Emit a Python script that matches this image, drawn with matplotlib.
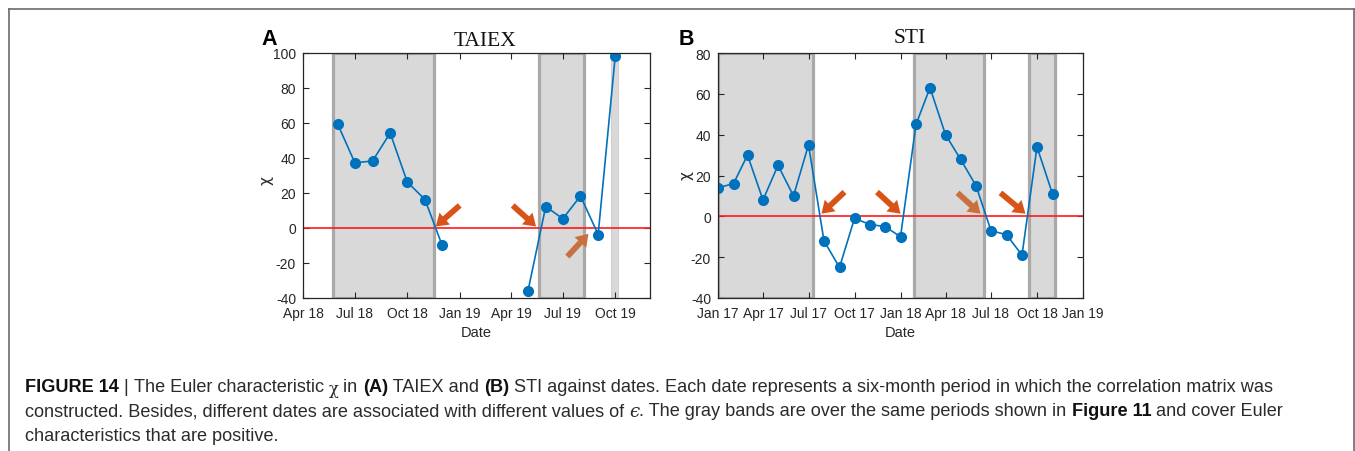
import datetime as dt
import numpy as np
import matplotlib
matplotlib.use("Agg")
import matplotlib.pyplot as plt
import matplotlib.dates as mdates
from matplotlib.lines import Line2D

# ---------------- data ----------------
taiex_dates = [dt.date(2018, m, 1) for m in range(6, 13)] + \
              [dt.date(2019, m, 1) for m in range(1, 11)]
taiex_chi = [59, 37, 38, 54, 26, 16, -10,
             np.nan, np.nan, np.nan, np.nan,
             -36, 12, 5, 18, -4, 98]

sti_dates = [dt.date(2017, m, 1) for m in range(1, 13)] + \
            [dt.date(2018, m, 1) for m in range(1, 12)]
sti_chi = [14, 16, 30, 8, 25, 10, 35, -12, -25, -1, -4, -5,
           -10, 45, 63, 40, 28, 15, -7, -9, -19, 34, 11]

# gray bands (start, end)
taiex_bands = [(dt.date(2018, 5, 23), dt.date(2018, 11, 17)),
               (dt.date(2019, 5, 20), dt.date(2019, 8, 8))]
taiex_thin_band = (dt.date(2019, 9, 23), dt.date(2019, 10, 6))
sti_bands = [(dt.date(2017, 1, 1), dt.date(2017, 7, 10)),
             (dt.date(2018, 1, 27), dt.date(2018, 6, 17)),
             (dt.date(2018, 9, 14), dt.date(2018, 11, 5))]

# arrows: (tail date, tail value, head date, head value, style)
taiex_arrows = [(dt.date(2019, 1, 1), 12.6, dt.date(2018, 11, 20), 0.6, "main"),
                (dt.date(2019, 4, 4), 12.6, dt.date(2019, 5, 15), 0.6, "main"),
                (dt.date(2019, 7, 9), -16.6, dt.date(2019, 8, 15), -3.6, "soft")]
sti_arrows = [(dt.date(2017, 9, 11), 11.9, dt.date(2017, 7, 27), 1.3, "main"),
              (dt.date(2017, 11, 15), 11.9, dt.date(2018, 1, 1), 1.3, "main"),
              (dt.date(2018, 4, 25), 11.5, dt.date(2018, 6, 10), 1.3, "soft"),
              (dt.date(2018, 7, 20), 11.5, dt.date(2018, 9, 8), 1.3, "main")]

taiex_xlim = (dt.date(2018, 4, 1), dt.date(2019, 12, 1))
sti_xlim = (dt.date(2017, 1, 1), dt.date(2019, 1, 1))
taiex_ylim = (-40, 100)
sti_ylim = (-40, 80)

# ---------------- style ----------------
BLUE = "#0072BD"
ORANGE = "#D95319"
SOFT_ORANGE = "#C8703E"
BAND_FILL = "#d9d9d9"
BAND_EDGE = "#a9a9a9"
AX_COL = "#262626"
SANS = ["Liberation Sans", "DejaVu Sans"]

plt.rcParams["font.family"] = SANS
plt.rcParams["axes.unicode_minus"] = False

W, H = 1355, 452
fig = plt.figure(figsize=(W / 100, H / 100), dpi=100)


def px_rect(l, t, r, b):
    return [l / W, 1 - b / H, (r - l) / W, (b - t) / H]


def draw_panel(ax, dates, chi, bands, arrows, xlim, ylim, ystep, thin_band=None):
    for (s, e) in bands:
        ax.axvspan(s, e, facecolor=BAND_FILL, edgecolor=BAND_EDGE, lw=2.3, zorder=1)
    if thin_band is not None:
        ax.axvspan(*thin_band, facecolor=BAND_FILL, edgecolor="#d0d0d0", lw=0.8, zorder=1)
    ax.axhline(0, color="#ff1a1a", lw=1.2, zorder=2)
    ax.plot(dates, chi, color=BLUE, lw=1.2, marker="o", ms=7,
            markerfacecolor=BLUE, markeredgecolor=BLUE, zorder=3)
    for (td, tv, hd, hv, kind) in arrows:
        col = ORANGE if kind == "main" else SOFT_ORANGE
        ax.annotate("", xy=(hd, hv), xytext=(td, tv),
                    arrowprops=dict(arrowstyle="simple,head_length=0.45,head_width=0.6,tail_width=0.22",
                                    color=col, lw=0, shrinkA=0, shrinkB=0,
                                    mutation_scale=19),
                    zorder=4)
    ax.set_xlim(*xlim)
    ax.set_ylim(*ylim)
    ax.set_yticks(np.arange(ylim[0], ylim[1] + 1, ystep))
    ax.xaxis.set_major_locator(mdates.MonthLocator(bymonth=[1, 4, 7, 10]))
    ax.xaxis.set_major_formatter(mdates.DateFormatter("%b %y"))
    ax.tick_params(direction="in", length=4, width=0.8, colors=AX_COL,
                   labelsize=10, top=True, right=True, pad=5)
    ax.tick_params(axis="x", pad=6)
    for sp in ax.spines.values():
        sp.set_color(AX_COL)
        sp.set_linewidth(0.9)
        sp.set_zorder(5)


axA = fig.add_axes(px_rect(303, 53.5, 650, 298.5))
draw_panel(axA, taiex_dates, taiex_chi, taiex_bands, taiex_arrows,
           taiex_xlim, taiex_ylim, 20, thin_band=taiex_thin_band)
axB = fig.add_axes(px_rect(718, 54, 1083, 299))
draw_panel(axB, sti_dates, sti_chi, sti_bands, sti_arrows,
           sti_xlim, sti_ylim, 20)

# titles, labels
fig.text(485 / W, 1 - 41.5 / H, "TAIEX", family=["Liberation Serif", "DejaVu Serif"],
         fontsize=15.5, ha="center", va="center", color="#111111")
fig.text(910 / W, 1 - 38.5 / H, "STI", family=["Liberation Serif", "DejaVu Serif"],
         fontsize=15.5, ha="center", va="center", color="#111111")
fig.text(261 / W, 1 - 45 / H, "A", fontsize=15.5, fontweight="bold", ha="left",
         va="baseline", color="black")
fig.text(679 / W, 1 - 45 / H, "B", fontsize=15.5, fontweight="bold", ha="left",
         va="baseline", color="black")
fig.text(266.5 / W, 1 - 181 / H, "χ", fontsize=11, ha="center", va="center",
         rotation=90, color=AX_COL, family=["DejaVu Sans"])
fig.text(686.5 / W, 1 - 176 / H, "χ", fontsize=11, ha="center", va="center",
         rotation=90, color=AX_COL, family=["DejaVu Sans"])
fig.text(476.5 / W, 1 - 333 / H, "Date", fontsize=10.5, ha="center", va="center", color=AX_COL)
fig.text(900.5 / W, 1 - 333 / H, "Date", fontsize=10.5, ha="center", va="center", color=AX_COL)

# outer frame (top, left, right)
fx0, fx1, fy = 9 / W, 1354 / W, 1 - 10.3 / H
frame_kw = dict(color="#6b6b6b", lw=1.2, transform=fig.transFigure)
fig.add_artist(Line2D([fx0, fx1], [fy, fy], **frame_kw))
fig.add_artist(Line2D([fx0, fx0], [0, fy], **frame_kw))
fig.add_artist(Line2D([fx1, fx1], [0, fy], **frame_kw))

# caption with mixed weights
caption_lines = [
    [("FIGURE 14", "bold"), (" | ", "normal"),
     ("The Euler characteristic ", "normal"), ("χ", "chi"), (" in ", "normal"),
     ("(A)", "bold"), (" TAIEX and ", "normal"), ("(B)", "bold"),
     (" STI against dates. Each date represents a six-month period in which the correlation matrix was", "normal")],
    [("constructed. Besides, different dates are associated with different values of ", "normal"),
     ("ϵ", "eps"),
     (". The gray bands are over the same periods shown in ", "normal"),
     ("Figure 11", "bold"), (" and cover Euler", "normal")],
    [("characteristics that are positive.", "normal")],
]
cap_y = [387, 412, 437]
cap_size = 13.1
cap_col = "#2b2b2b"
renderer = fig.canvas.get_renderer()
for segs, yy in zip(caption_lines, cap_y):
    x = 25
    for txt, kind in segs:
        kw = dict(fontsize=cap_size, color=cap_col, va="center", ha="left")
        y_off = 0
        if kind == "bold":
            kw["fontweight"] = "bold"
            kw["color"] = "#111111"
        elif kind == "chi":
            kw["family"] = ["DejaVu Serif"]
            kw["fontsize"] = cap_size * 0.9
            y_off = 2.5
        elif kind == "eps":
            kw["family"] = ["DejaVu Serif"]
            kw["style"] = "italic"
        t = fig.text(x / W, 1 - (yy + y_off) / H, txt, **kw)
        bb = t.get_window_extent(renderer=renderer)
        x += bb.width

fig.savefig("out.png", dpi=100)
